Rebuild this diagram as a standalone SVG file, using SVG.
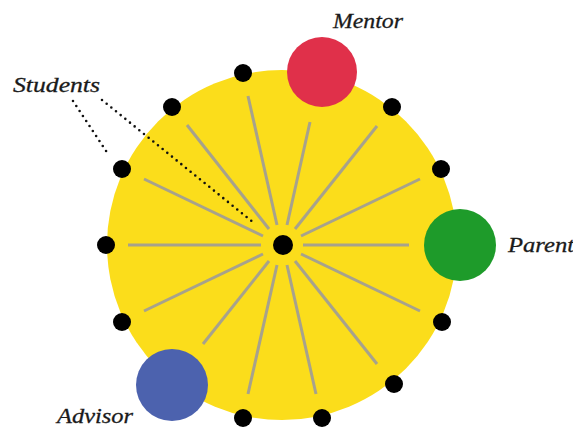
<svg xmlns="http://www.w3.org/2000/svg" width="573" height="429" viewBox="0 0 573 429">
<style>
.spoke{stroke:#a7a28c;stroke-width:3;stroke-linecap:butt}
.dot{fill:#000}
.lbl{font-family:"Liberation Serif","DejaVu Serif",serif;font-style:italic;font-size:22px;fill:#1a1a1a;stroke:#1a1a1a;stroke-width:0.3}
.dotted{fill:none;stroke:#111;stroke-width:2.6;stroke-linecap:round;stroke-dasharray:0 6}
</style>
<rect width="573" height="429" fill="#fff"/>
<circle id="wheel" cx="282" cy="245" r="175" fill="#fbdd1b"/>
<g id="connectors">
<line class="spoke" x1="303" y1="245" x2="409" y2="245"/>
<line class="spoke" x1="301" y1="236" x2="420" y2="179"/>
<line class="spoke" x1="295" y1="229" x2="377" y2="126"/>
<line class="spoke" x1="287" y1="225" x2="310" y2="122"/>
<line class="spoke" x1="277" y1="225" x2="248" y2="96"/>
<line class="spoke" x1="269" y1="229" x2="187" y2="125"/>
<line class="spoke" x1="263" y1="236" x2="144" y2="179"/>
<line class="spoke" x1="261" y1="245" x2="128" y2="245"/>
<line class="spoke" x1="263" y1="254" x2="144" y2="311"/>
<line class="spoke" x1="269" y1="261" x2="203" y2="344"/>
<line class="spoke" x1="277" y1="265" x2="248" y2="394"/>
<line class="spoke" x1="287" y1="265" x2="316" y2="394"/>
<line class="spoke" x1="295" y1="261" x2="377" y2="364"/>
<line class="spoke" x1="301" y1="254" x2="420" y2="311"/>
<line class="dotted" x1="73" y1="101" x2="108" y2="154"/>
<line class="dotted" x1="102" y1="100" x2="254" y2="223"/>
</g>
<g id="center"><circle class="dot" cx="283" cy="245" r="10"/></g>
<g id="students">
<circle class="dot" cx="441" cy="169" r="9"/>
<circle class="dot" cx="392" cy="107" r="9"/>
<circle class="dot" cx="243" cy="73" r="9"/>
<circle class="dot" cx="172" cy="107" r="9"/>
<circle class="dot" cx="122" cy="169" r="9"/>
<circle class="dot" cx="106" cy="245" r="9"/>
<circle class="dot" cx="122" cy="322" r="9"/>
<circle class="dot" cx="243" cy="418" r="9"/>
<circle class="dot" cx="322" cy="418" r="9"/>
<circle class="dot" cx="394" cy="384" r="9"/>
<circle class="dot" cx="442" cy="322" r="9"/>
<text class="lbl" x="13" y="92" textLength="87" lengthAdjust="spacingAndGlyphs">Students</text>
</g>
<g id="mentor">
<circle cx="322" cy="72" r="35" fill="#e0304a"/>
<text class="lbl" x="333" y="28" textLength="70" lengthAdjust="spacingAndGlyphs">Mentor</text>
</g>
<g id="parent">
<circle cx="460" cy="245" r="36" fill="#1e9b2a"/>
<text class="lbl" x="508" y="252" textLength="66" lengthAdjust="spacingAndGlyphs">Parent</text>
</g>
<g id="advisor">
<circle cx="172" cy="385" r="36" fill="#4c62ae"/>
<text class="lbl" x="57" y="423" textLength="76" lengthAdjust="spacingAndGlyphs">Advisor</text>
</g>
</svg>
